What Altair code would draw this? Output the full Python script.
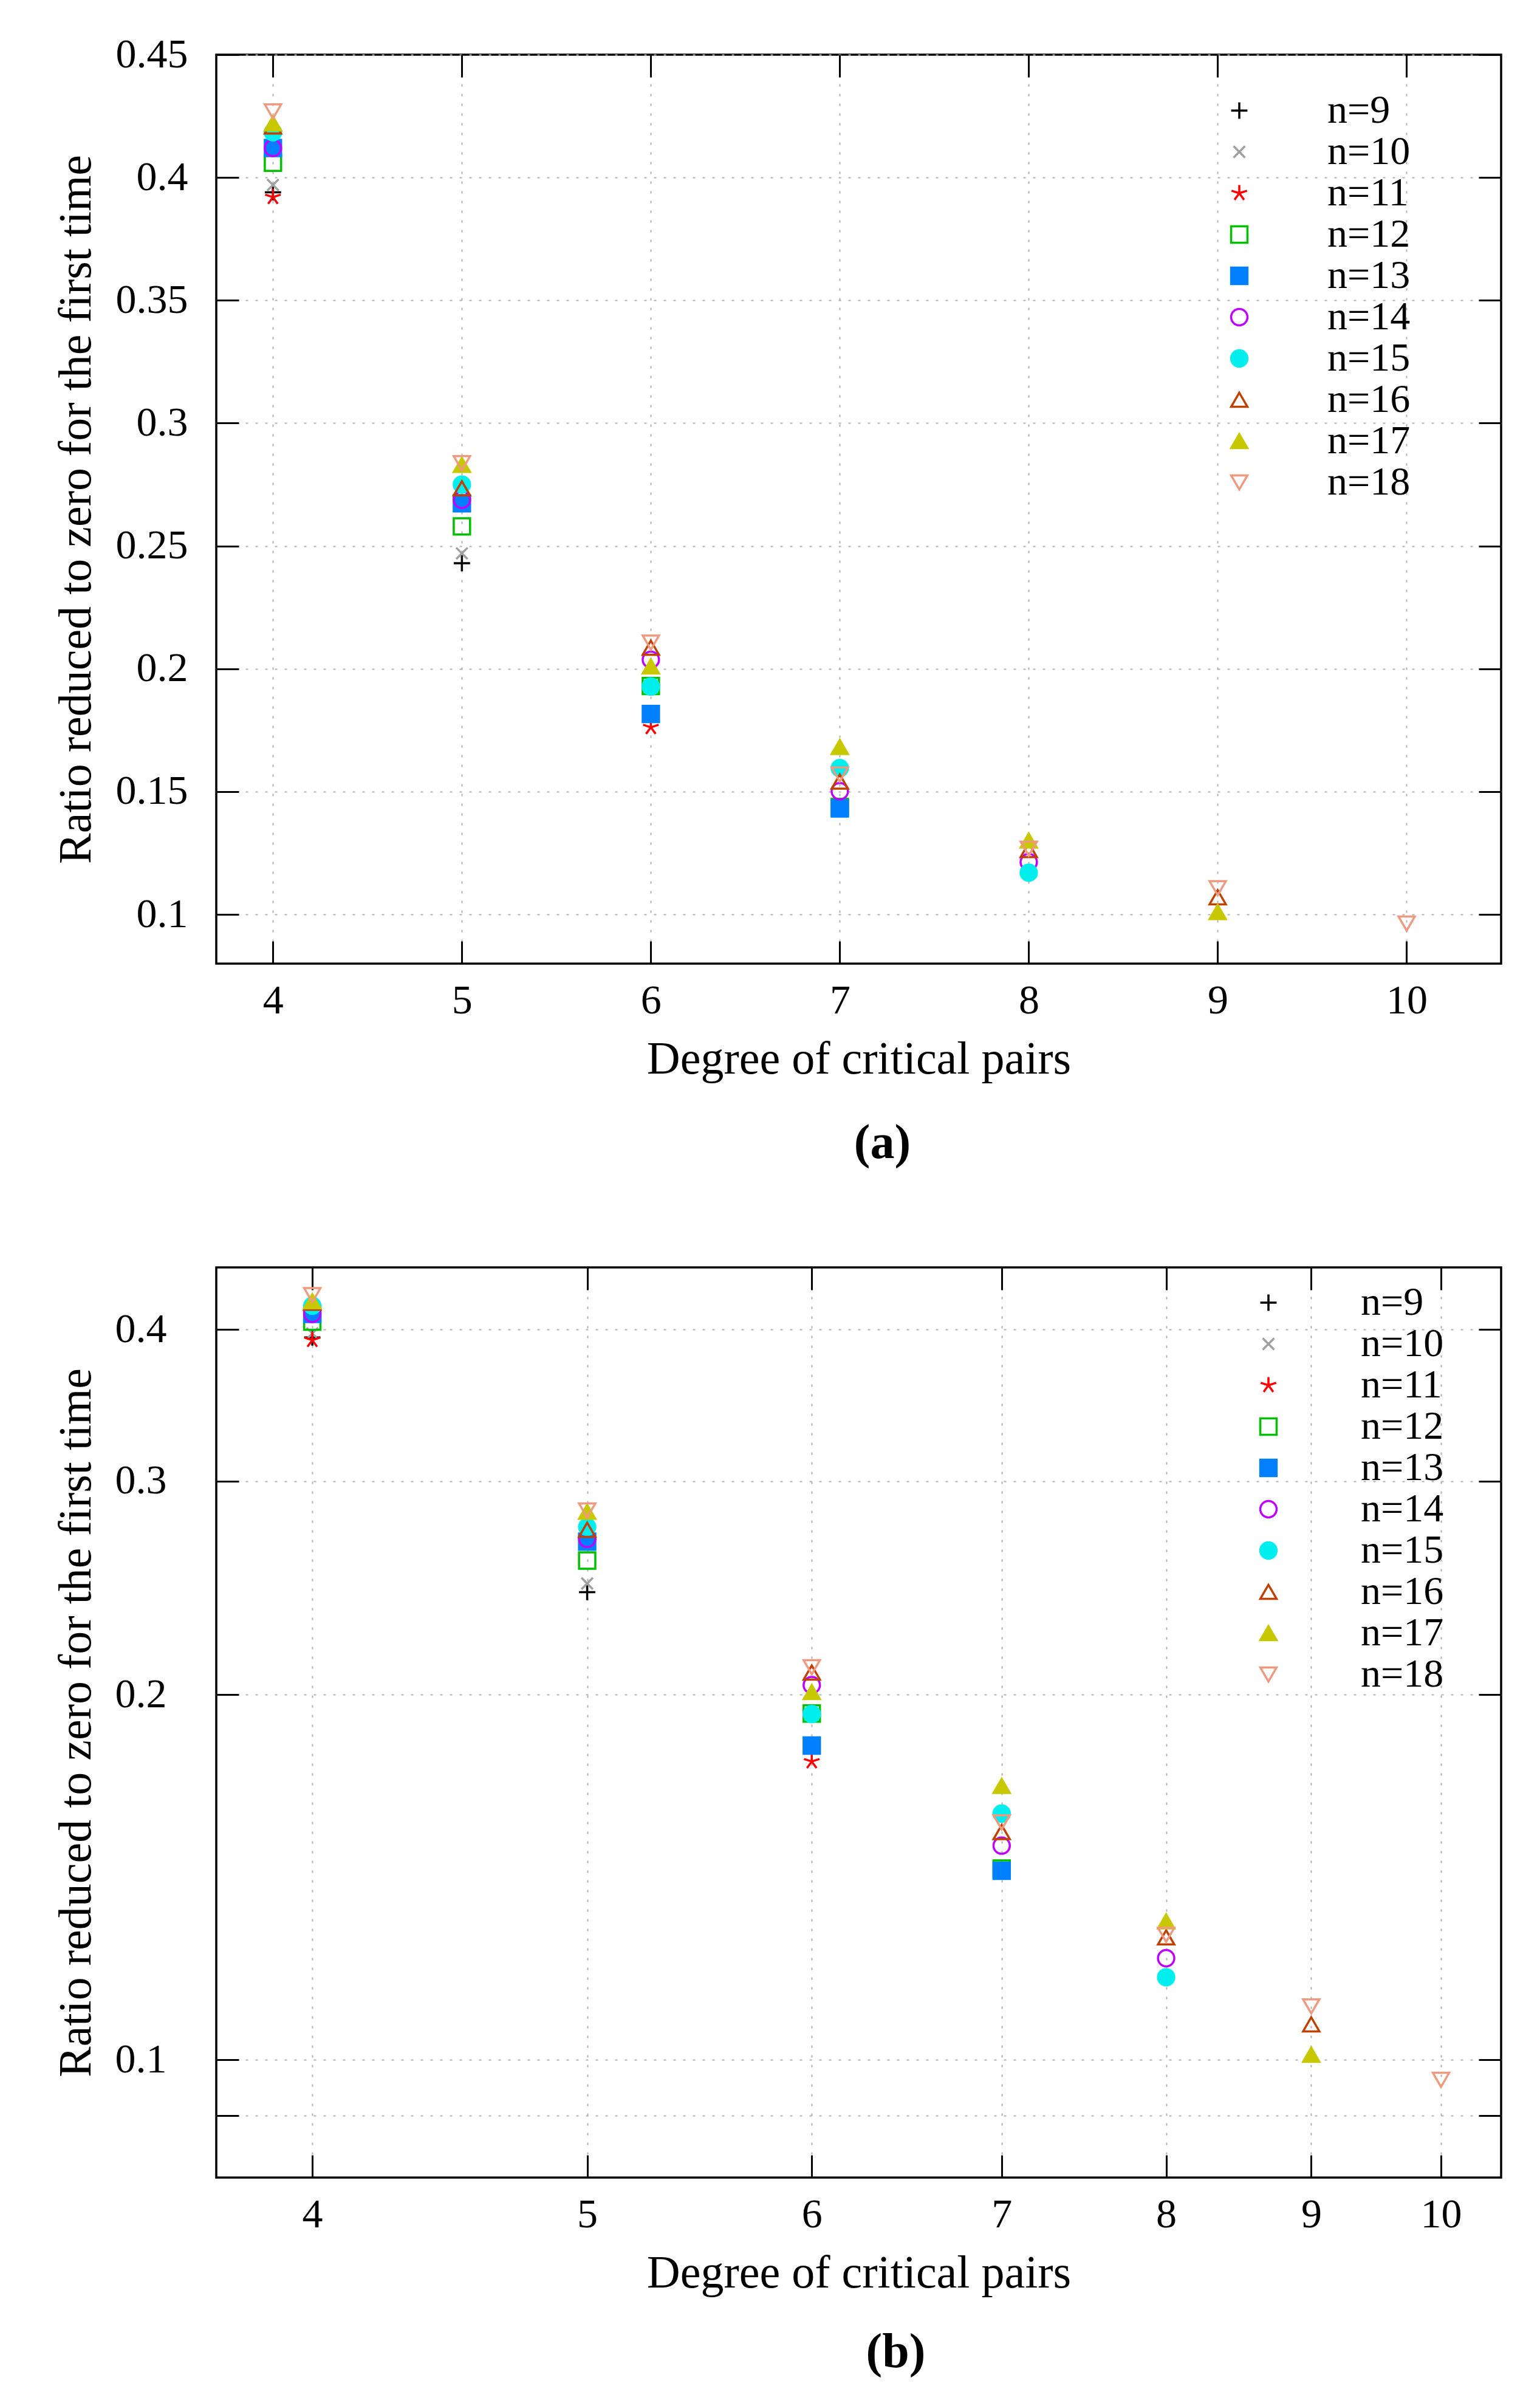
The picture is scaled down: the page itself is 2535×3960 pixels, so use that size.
import altair as alt
import pandas as pd

# ---- data ----
series = ["n=9", "n=10", "n=11", "n=12", "n=13", "n=14", "n=15", "n=16", "n=17", "n=18"]
degrees = {
    "n=9": [4, 5],
    "n=10": [4, 5],
    "n=11": [4, 5, 6],
    "n=12": [4, 5, 6, 7],
    "n=13": [4, 5, 6, 7],
    "n=14": [4, 5, 6, 7, 8],
    "n=15": [4, 5, 6, 7, 8],
    "n=16": [4, 5, 6, 7, 8, 9],
    "n=17": [4, 5, 6, 7, 8, 9],
    "n=18": [4, 5, 6, 7, 8, 9, 10],
}
ratios = {
    "n=9": [0.394, 0.243],
    "n=10": [0.397, 0.247],
    "n=11": [0.392, 0.2674, 0.1762],
    "n=12": [0.406, 0.258, 0.193, 0.1438],
    "n=13": [0.412, 0.2674, 0.1816, 0.1432],
    "n=14": [0.412, 0.2688, 0.2037, 0.1502, 0.1213],
    "n=15": [0.4184, 0.275, 0.1928, 0.1596, 0.117],
    "n=16": [0.4208, 0.2735, 0.2086, 0.1541, 0.1262, 0.107],
    "n=17": [0.422, 0.283, 0.201, 0.1682, 0.1301, 0.101],
    "n=18": [0.4269, 0.2837, 0.2107, 0.157, 0.1268, 0.1107, 0.0963],
}

# ---- styling ----
stroke_colors = ["#000000", "#a0a0a0", "#ff0000", "#00c000", "#0080ff",
                 "#c000ff", "#00eeee", "#c04000", "#c8c800", "#ee9a80"]
fill_colors = ["transparent", "transparent", "transparent", "transparent", "#0080ff",
               "transparent", "#00eeee", "transparent", "#c8c800", "transparent"]
shapes = [
    "M-1,0L1,0M0,-1L0,1",
    "M-0.7,-0.7L0.7,0.7M-0.7,0.7L0.7,-0.7",
    "M0,0L0,-1M0,0L0.951,-0.309M0,0L-0.951,-0.309M0,0L-0.588,0.809M0,0L0.588,0.809",
    "square",
    "square",
    "circle",
    "circle",
    "triangle-up",
    "triangle-up",
    "triangle-down",
]

rows = []
for s in series:
    for d, r in zip(degrees[s], ratios[s]):
        rows.append({"deg": d, "ratio": r, "series": s})
df = pd.DataFrame(rows)

FONT = "Liberation Serif"
SYM = 720
SW = 3.5
TICK = 37


def panel(log_scale, width, height, yvals, ylabel_expr, lab_pad, title_pad,
          legend_x, legend_y, label_offset, tag, tag_dx, tag_offset):
    xscale = alt.Scale(type="log", domain=[3.7, 10.5], nice=False) if log_scale else \
        alt.Scale(domain=[3.7, 10.5], nice=False, zero=False)
    yscale = alt.Scale(type="log", domain=[0.08, 0.45], nice=False) if log_scale else \
        alt.Scale(domain=[0.08, 0.45], nice=False, zero=False)

    leg = alt.Legend(title=None, orient="none", legendX=legend_x, legendY=legend_y,
                     symbolSize=SYM, symbolStrokeWidth=SW, labelFontSize=66,
                     labelFont=FONT, labelOffset=label_offset, rowPadding=2,
                     padding=0, labelColor="black")

    base_x = alt.X("deg:Q", scale=xscale,
                   axis=alt.Axis(title="Degree of critical pairs", values=[4, 5, 6, 7, 8, 9, 10],
                                 format="d", offset=-TICK, tickSize=TICK, domain=False,
                                 labelPadding=27, titlePadding=25, grid=True))
    base_y = alt.Y("ratio:Q", scale=yscale,
                   axis=alt.Axis(title="Ratio reduced to zero for the first time",
                                 values=yvals, labelExpr=ylabel_expr,
                                 offset=-TICK, tickSize=TICK, domain=False,
                                 maxExtent=400, minExtent=0,
                                 labelPadding=lab_pad, titlePadding=title_pad, grid=True))

    pts = alt.Chart(df).mark_point(filled=False, size=SYM, strokeWidth=SW, opacity=1).encode(
        x=base_x,
        y=base_y,
        shape=alt.Shape("series:N", scale=alt.Scale(domain=series, range=shapes), legend=leg, sort=series),
        stroke=alt.Stroke("series:N", scale=alt.Scale(domain=series, range=stroke_colors), legend=leg, sort=series),
        fill=alt.Fill("series:N", scale=alt.Scale(domain=series, range=fill_colors), legend=leg, sort=series),
    )

    mirror = alt.Chart(df).mark_point(opacity=0).encode(
        x=alt.X("deg:Q", scale=xscale,
                axis=alt.Axis(orient="top", title=None, labels=False, values=[4, 5, 6, 7, 8, 9, 10],
                              offset=-TICK, tickSize=TICK, domain=False, grid=False)),
        y=alt.Y("ratio:Q", scale=yscale,
                axis=alt.Axis(orient="right", title=None, labels=False, values=yvals,
                              offset=-TICK, tickSize=TICK, domain=False, grid=False)),
    )

    return alt.layer(pts, mirror).resolve_axis(x="independent", y="independent").properties(
        width=width, height=height,
        title=alt.Title(tag, orient="bottom", fontSize=80, fontWeight="bold", font=FONT,
                        offset=tag_offset, anchor="middle", frame="group", dx=tag_dx, color="black"),
    )


top = panel(False, 2115, 1496, [0.1, 0.15, 0.2, 0.25, 0.3, 0.35, 0.4, 0.45],
            "format(datum.value, '.2~f')", 47, 26, 1651, 59, 112, "(a)", 39, 62)
bottom = panel(True, 2115, 1498, [0.09, 0.1, 0.2, 0.3, 0.4],
               "datum.value < 0.095 ? '' : format(datum.value, '.1~f')", 82, 25,
               1699, 25, 119, "(b)", 61, 54)

chart = alt.vconcat(top, bottom, spacing=158).resolve_scale(
    x="independent", y="independent", shape="independent", fill="independent", stroke="independent"
).resolve_legend(shape="independent", fill="independent", stroke="independent").properties(
    padding={"left": 77, "top": 46, "right": 10, "bottom": 10},
    background="white",
).configure_view(
    stroke="black", strokeWidth=3.5
).configure_axis(
    labelFont=FONT, titleFont=FONT, labelFontSize=68, titleFontSize=76,
    labelColor="black", titleColor="black", titleFontWeight="normal",
    tickColor="black", tickWidth=3, gridColor="#b0b0b0", gridWidth=2, gridDash=[4, 12],
    gridOpacity=1
)

chart.save("out.html", embed_options={"renderer": "svg", "actions": False})
